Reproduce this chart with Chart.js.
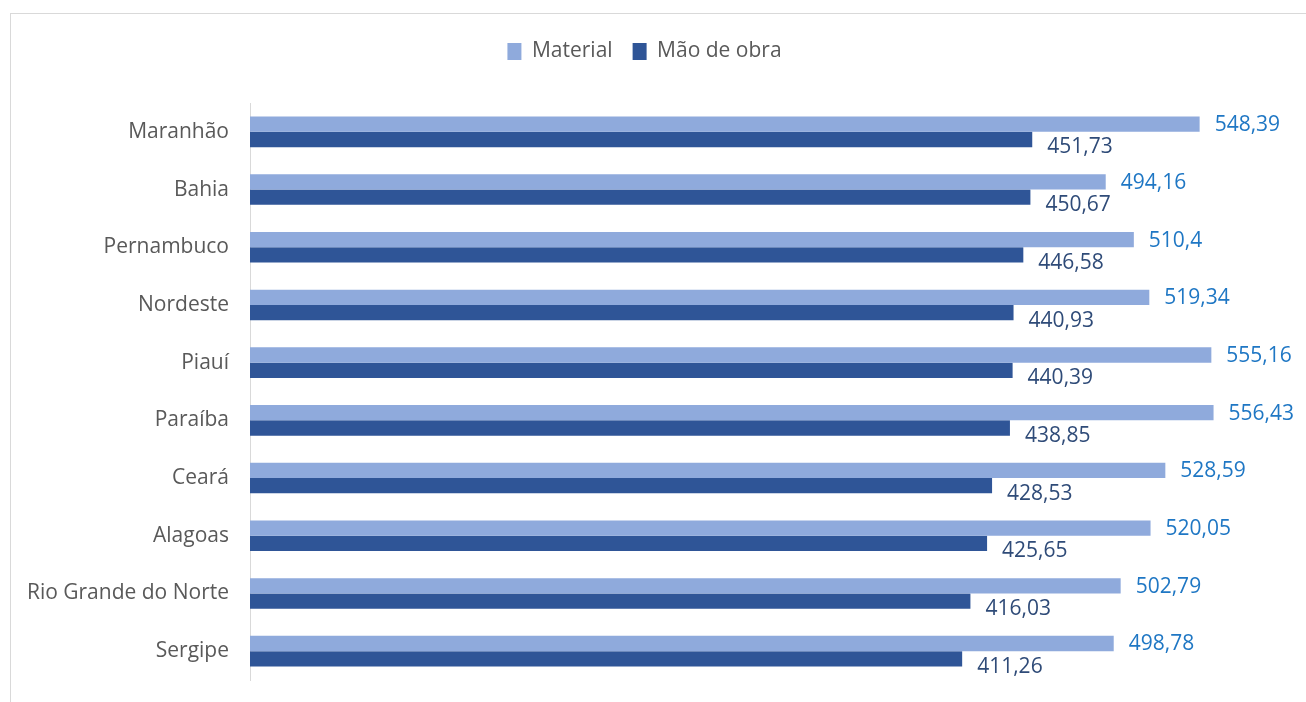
<!DOCTYPE html>
<html lang="pt">
<head>
  <meta charset="UTF-8" />
  <title>Custo por estado</title>
  <script src="https://cdn.jsdelivr.net/npm/chart.js"></script>
  <style>
    body { margin: 0; background: #fff; }
    #frame { position: absolute; left: 10px; top: 13px; width: 1400px; height: 800px;
             border-left: 1px solid #d9d9d9; border-top: 1px solid #d9d9d9; }
    #wrap { position: absolute; left: 0; top: 0; width: 1306px; height: 702px; }
  </style>
</head>
<body>
  <div id="frame"></div>
  <div id="wrap"><canvas id="custoChart"></canvas></div>

  <script>
    const estados = ["Maranhão", "Bahia", "Pernambuco", "Nordeste", "Piauí",
                     "Paraíba", "Ceará", "Alagoas", "Rio Grande do Norte", "Sergipe"];
    const material = [548.39, 494.16, 510.4, 519.34, 555.16, 556.43, 528.59, 520.05, 502.79, 498.78];
    const maoDeObra = [451.73, 450.67, 446.58, 440.93, 440.39, 438.85, 428.53, 425.65, 416.03, 411.26];

    const labelColors = ["#1F77C4", "#2F4B78"];

    // value labels next to the bar ends, comma as decimal separator
    const valueLabels = {
      id: "valueLabels",
      afterDatasetsDraw(chart) {
        const ctx = chart.ctx;
        ctx.save();
        ctx.font = "21px 'Open Sans'";
        ctx.textAlign = "left";
        ctx.textBaseline = "middle";
        chart.data.datasets.forEach((ds, i) => {
          const meta = chart.getDatasetMeta(i);
          ctx.fillStyle = labelColors[i];
          meta.data.forEach((bar, j) => {
            const txt = String(ds.data[j]).replace(".", ",");
            const dy = i === 0 ? 1 : 8;
            ctx.fillText(txt, bar.x + 15, bar.y + dy);
          });
        });
        ctx.restore();
      }
    };

    // extra space under the legend
    const legendGap = {
      id: "legendGap",
      beforeInit(chart) {
        const origFit = chart.legend.fit;
        chart.legend.fit = function () {
          origFit.bind(chart.legend)();
          this.height += 31;
        };
      }
    };

    new Chart(document.getElementById("custoChart"), {
      type: "bar",
      data: {
        labels: estados,
        datasets: [
          { label: "Material", data: material, backgroundColor: "#8FAADC" },
          { label: "Mão de obra", data: maoDeObra, backgroundColor: "#2F5597" }
        ]
      },
      options: {
        indexAxis: "y",
        responsive: true,
        maintainAspectRatio: false,
        animation: false,
        categoryPercentage: 0.53,
        barPercentage: 1,
        layout: { padding: { left: 0, right: 17, top: 21, bottom: 22 } },
        scales: {
          x: {
            min: 0, max: 600,
            display: false,
            grid: { display: false }
          },
          y: {
            grid: { display: false },
            border: { color: "#d9d9d9", width: 1 },
            ticks: { color: "#595959", font: { family: "'Open Sans'", size: 21 }, padding: 13 },
            afterFit(scale) {
              scale.width = 250;
              scale.paddingTop = 0;
              scale.paddingBottom = 0;
            }
          }
        },
        plugins: {
          legend: {
            position: "top",
            labels: {
              color: "#595959",
              font: { family: "'Open Sans'", size: 21 },
              boxWidth: 14,
              boxHeight: 17,
              padding: 20
            }
          },
          tooltip: { enabled: false }
        }
      },
      plugins: [valueLabels, legendGap]
    });
  </script>
</body>
</html>
